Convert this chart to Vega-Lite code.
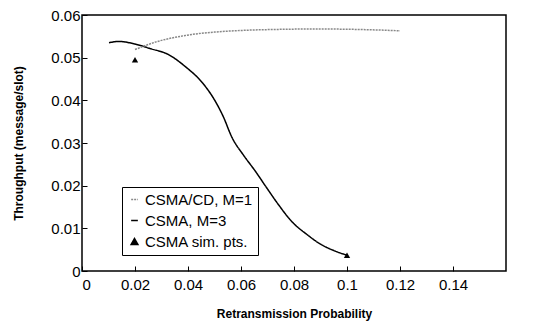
{
  "$schema": "https://vega.github.io/schema/vega-lite/v6.json",
  "autosize": "none",
  "width": 424,
  "height": 256,
  "padding": {"left": 82, "top": 15, "right": 37, "bottom": 53},
  "background": "white",
  "config": {
    "font": "Liberation Sans",
    "view": {"stroke": "#000", "strokeWidth": 1.5},
    "axis": {
      "grid": false,
      "domain": false,
      "tickColor": "#000",
      "tickSize": -5,
      "labelFontSize": 15,
      "labelColor": "#000",
      "titleFontSize": 12,
      "titleFontWeight": "bold",
      "titleColor": "#000"
    }
  },
  "datasets": {
    "curves": [
      {"p": 0.0102, "t": 0.0535, "series": "CSMA, M=3"},
      {"p": 0.0138, "t": 0.0538, "series": "CSMA, M=3"},
      {"p": 0.020, "t": 0.0532, "series": "CSMA, M=3"},
      {"p": 0.0259, "t": 0.0521, "series": "CSMA, M=3"},
      {"p": 0.0324, "t": 0.0508, "series": "CSMA, M=3"},
      {"p": 0.039, "t": 0.0479, "series": "CSMA, M=3"},
      {"p": 0.0456, "t": 0.044, "series": "CSMA, M=3"},
      {"p": 0.050, "t": 0.0401, "series": "CSMA, M=3"},
      {"p": 0.0533, "t": 0.0362, "series": "CSMA, M=3"},
      {"p": 0.0566, "t": 0.0313, "series": "CSMA, M=3"},
      {"p": 0.061, "t": 0.0271, "series": "CSMA, M=3"},
      {"p": 0.0654, "t": 0.0234, "series": "CSMA, M=3"},
      {"p": 0.0698, "t": 0.0194, "series": "CSMA, M=3"},
      {"p": 0.0742, "t": 0.0155, "series": "CSMA, M=3"},
      {"p": 0.079, "t": 0.0117, "series": "CSMA, M=3"},
      {"p": 0.085, "t": 0.0085, "series": "CSMA, M=3"},
      {"p": 0.090, "t": 0.0063, "series": "CSMA, M=3"},
      {"p": 0.095, "t": 0.0048, "series": "CSMA, M=3"},
      {"p": 0.100, "t": 0.0037, "series": "CSMA, M=3"},
      {"p": 0.020, "t": 0.0519, "series": "CSMA/CD, M=1"},
      {"p": 0.028, "t": 0.0537, "series": "CSMA/CD, M=1"},
      {"p": 0.039, "t": 0.0552, "series": "CSMA/CD, M=1"},
      {"p": 0.050, "t": 0.0560, "series": "CSMA/CD, M=1"},
      {"p": 0.061, "t": 0.0564, "series": "CSMA/CD, M=1"},
      {"p": 0.072, "t": 0.0566, "series": "CSMA/CD, M=1"},
      {"p": 0.083, "t": 0.0567, "series": "CSMA/CD, M=1"},
      {"p": 0.094, "t": 0.0567, "series": "CSMA/CD, M=1"},
      {"p": 0.105, "t": 0.0566, "series": "CSMA/CD, M=1"},
      {"p": 0.120, "t": 0.0563, "series": "CSMA/CD, M=1"}
    ],
    "sim": [
      {"p": 0.02, "t": 0.0495, "series": "CSMA sim. pts."},
      {"p": 0.06, "t": 0.0183, "series": "CSMA sim. pts."},
      {"p": 0.10, "t": 0.0037, "series": "CSMA sim. pts."}
    ]
  },
  "layer": [
    {
      "data": {"name": "curves"},
      "mark": {"type": "line", "strokeWidth": 1.5, "interpolate": "monotone"},
      "encoding": {
        "x": {"field": "p", "type": "quantitative", "scale": {"domain": [0, 0.14]}, "axis": {"values": [0, 0.02, 0.04, 0.06, 0.08, 0.1, 0.12, 0.14], "format": "~g", "title": "Retransmission Probability", "labelPadding": 11, "titlePadding": 16}},
        "y": {"field": "t", "type": "quantitative", "scale": {"domain": [0, 0.06]}, "axis": {"values": [0, 0.01, 0.02, 0.03, 0.04, 0.05, 0.06], "format": "~g", "title": "Throughput (message/slot)", "labelPadding": 7, "titlePadding": 25}},
        "color": {"field": "series", "type": "nominal", "scale": {"domain": ["CSMA/CD, M=1", "CSMA, M=3", "CSMA sim. pts."], "range": ["#888888", "#000000", "#000000"]},
          "legend": {"title": null, "orient": "none", "legendX": 40, "legendY": 172, "strokeColor": "#000", "fillColor": "#fff", "padding": 5, "labelFontSize": 15, "labelColor": "#000", "symbolSize": 45, "symbolStrokeWidth": 1.5, "rowPadding": 5, "labelOffset": 3}},
        "strokeDash": {"field": "series", "type": "nominal", "scale": {"domain": ["CSMA/CD, M=1", "CSMA, M=3", "CSMA sim. pts."], "range": [[2, 1], [1, 0], [1, 0]]}}
      }
    },
    {
      "data": {"name": "sim"},
      "mark": {"type": "point", "filled": true, "opacity": 1, "size": 40},
      "encoding": {
        "x": {"field": "p", "type": "quantitative"},
        "y": {"field": "t", "type": "quantitative"},
        "shape": {"field": "series", "type": "nominal", "scale": {"domain": ["CSMA/CD, M=1", "CSMA, M=3", "CSMA sim. pts."], "range": ["stroke", "stroke", "triangle-up"]}},
        "color": {"field": "series", "type": "nominal"}
      }
    }
  ]
}
